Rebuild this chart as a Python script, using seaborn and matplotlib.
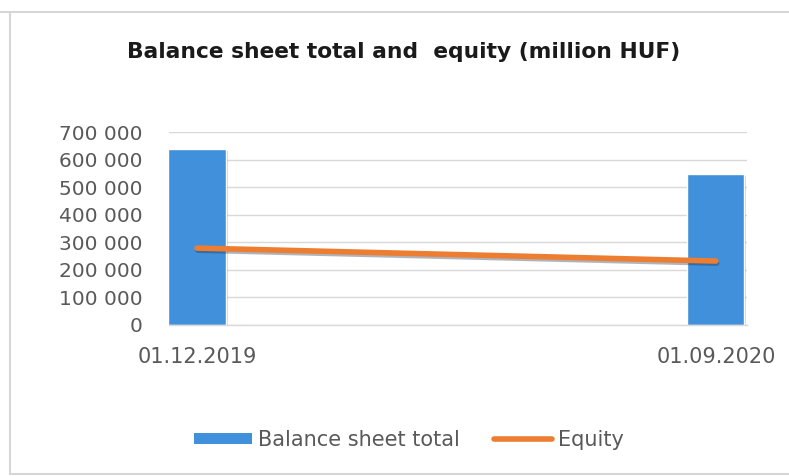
import matplotlib
matplotlib.use("Agg")
import matplotlib.pyplot as plt
import matplotlib.patheffects as pe
from matplotlib.patches import Patch
from matplotlib.lines import Line2D
from matplotlib.ticker import FuncFormatter
import pandas as pd
import seaborn as sns

# Chart data (million HUF)
dates = ["01.12.2019", "01.09.2020"]
balance_sheet_total = [638000, 547000]
equity = [279000, 232000]
y_ticks = [0, 100000, 200000, 300000, 400000, 500000, 600000, 700000]

df = pd.DataFrame({"date": dates, "total": balance_sheet_total, "equity": equity})

sns.set_theme(style="white")
plt.rcParams["font.family"] = ["DejaVu Sans"]

BLUE = "#4090dc"
ORANGE = "#ed7d31"
GREY_TXT = "#595959"
GRID = "#d9d9d9"

fig = plt.figure(figsize=(7.89, 4.76), dpi=100)
ax = fig.add_axes([169 / 789, 1 - 325 / 476, (747 - 169) / 789, (325 - 132) / 476])

sns.barplot(data=df, x="date", y="total", color=BLUE, width=0.11,
            saturation=1, ax=ax, zorder=2)
for bar in ax.patches:
    bar.set_path_effects([pe.SimplePatchShadow(offset=(1.5, -1.5), alpha=0.2),
                          pe.Normal()])

sns.pointplot(data=df, x="date", y="equity", color=ORANGE, markers="",
              linestyles="-", linewidth=4, ax=ax, zorder=3)
for ln in ax.lines:
    ln.set_solid_capstyle("round")
    ln.set_path_effects([pe.SimpleLineShadow(offset=(0.5, -1.5), shadow_color="#1f2a3a",
                                             alpha=0.35),
                         pe.Normal()])

ax.set_xlim(-0.054, 1.06)
ax.set_ylim(0, 700000)
ax.set_yticks(y_ticks)
ax.yaxis.set_major_formatter(FuncFormatter(lambda v, p: f"{int(v):,}".replace(",", " ")))
ax.grid(axis="y", color=GRID, linewidth=1, zorder=0)
ax.set_axisbelow(True)
for side in ["top", "right", "left"]:
    ax.spines[side].set_visible(False)
ax.spines["bottom"].set_color(GRID)
ax.spines["bottom"].set_linewidth(1)
ax.tick_params(axis="y", length=0, pad=19, labelsize=14.5, labelcolor=GREY_TXT)
ax.tick_params(axis="x", length=0, pad=16, labelsize=15, labelcolor=GREY_TXT)
ax.set_xlabel("")
ax.set_ylabel("")

fig.text(0.512, 1 - 52 / 476, "Balance sheet total and  equity (million HUF)",
         ha="center", va="center", fontsize=15.7, fontweight="bold", color="#1a1a1a")

handles = [Patch(facecolor=BLUE, edgecolor="none"),
           Line2D([0], [0], color=ORANGE, linewidth=4)]
fig.legend(handles, ["Balance sheet total", "Equity"], loc="center",
           bbox_to_anchor=(409 / 789, 1 - 440 / 476), ncol=2, frameon=False,
           fontsize=15, labelcolor=GREY_TXT, handlelength=2.8, handleheight=0.45,
           handletextpad=0.3, columnspacing=1.6)

# light frame around the chart object
frame_kw = dict(color="#d6d6d6", linewidth=1.5, transform=fig.transFigure)
fig.add_artist(Line2D([0, 1], [1 - 12 / 476, 1 - 12 / 476], **frame_kw))
fig.add_artist(Line2D([10 / 789, 10 / 789], [1 - 12 / 476, 1 - 474 / 476], **frame_kw))
fig.add_artist(Line2D([10 / 789, 1], [1 - 474 / 476, 1 - 474 / 476], **frame_kw))

fig.savefig("out.png", dpi=100, facecolor="white")
